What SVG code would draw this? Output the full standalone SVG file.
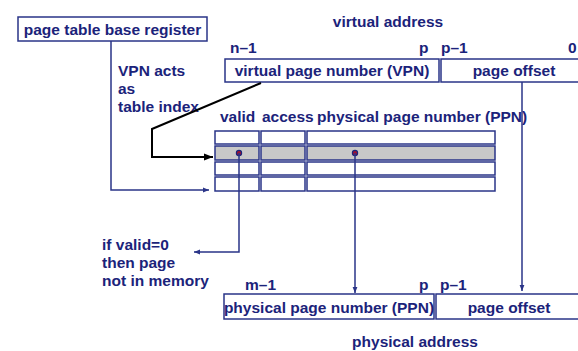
<svg xmlns="http://www.w3.org/2000/svg" width="578" height="351" viewBox="0 0 578 351">
<defs>
<style>
text{font-family:"Liberation Sans",Arial,sans-serif;font-weight:bold;font-size:15.5px;fill:#1b237a}
.box{fill:#fff;stroke:#2a3488;stroke-width:1.5}
.cell{fill:#fff;stroke:#2a3488;stroke-width:1.5}
.sel{fill:#c8c8c8}
.ln{fill:none;stroke:#2a3488;stroke-width:1.5}
.blk{fill:none;stroke:#000;stroke-width:2}
</style>
<marker id="ab" viewBox="0 0 10 10" refX="10" refY="5" markerWidth="6" markerHeight="6" orient="auto" markerUnits="userSpaceOnUse"><path d="M0,1 L10,5 L0,9 z" fill="#2a3488"/></marker>
<marker id="ak" viewBox="0 0 10 10" refX="10" refY="5" markerWidth="9" markerHeight="9" orient="auto" markerUnits="userSpaceOnUse"><path d="M0,1 L10,5 L0,9 z" fill="#000"/></marker>
</defs>
<rect width="578" height="351" fill="#fff"/>
<g id="ptbr"><rect class="box" x="18" y="17" width="189" height="24"/><text x="112.5" y="35" text-anchor="middle">page table base register</text></g>
<g id="va-label"><text x="388" y="27" text-anchor="middle">virtual address</text></g>
<g id="va-vpn"><rect class="box" x="225" y="59" width="214" height="23"/><text x="332" y="76" text-anchor="middle">virtual page number (VPN)</text><text x="230" y="53">n–1</text><text x="419" y="53">p</text></g>
<g id="va-off"><rect class="box" x="441" y="59" width="145" height="23"/><text x="514" y="76" text-anchor="middle">page offset</text><text x="441" y="53">p–1</text><text x="568" y="53">0</text></g>
<g id="vpn-note"><text x="118" y="76">VPN acts</text><text x="118" y="94">as</text><text x="118" y="112">table index</text></g>
<g id="pt-header"><text x="220" y="122">valid</text><text x="262" y="122">access</text><text x="317" y="122">physical page number (PPN)</text></g>
<g id="page-table">
<rect class="cell" x="215" y="131" width="44" height="13"/><rect class="cell" x="261" y="131" width="44" height="13"/><rect class="cell" x="307" y="131" width="188" height="13"/>
<rect class="cell sel" x="215" y="146" width="44" height="14"/><rect class="cell sel" x="261" y="146" width="44" height="14"/><rect class="cell sel" x="307" y="146" width="188" height="14"/>
<rect class="cell" x="215" y="162" width="44" height="13"/><rect class="cell" x="261" y="162" width="44" height="13"/><rect class="cell" x="307" y="162" width="188" height="13"/>
<rect class="cell" x="215" y="177" width="44" height="14"/><rect class="cell" x="261" y="177" width="44" height="14"/><rect class="cell" x="307" y="177" width="188" height="14"/>
<circle cx="239" cy="153" r="2.6" fill="#a01030" stroke="#1b237a" stroke-width="1.2"/>
<circle cx="355" cy="153" r="2.6" fill="#a01030" stroke="#1b237a" stroke-width="1.2"/>
</g>
<g id="invalid-note"><text x="102" y="250">if valid=0</text><text x="102" y="268">then page</text><text x="102" y="286">not in memory</text></g>
<g id="pa-ppn"><rect class="box" x="224" y="294" width="210" height="25"/><text x="329" y="313" text-anchor="middle">physical page number (PPN)</text><text x="245" y="290">m–1</text><text x="419" y="290">p</text></g>
<g id="pa-off"><rect class="box" x="436" y="294" width="150" height="25"/><text x="509" y="313" text-anchor="middle">page offset</text><text x="440" y="290">p–1</text></g>
<g id="pa-label"><text x="415" y="347" text-anchor="middle">physical address</text></g>
<g id="connectors">
<path class="ln" d="M111,41 V190 H209" marker-end="url(#ab)"/>
<path class="blk" d="M261,83 L152,129 V157 H213" marker-end="url(#ak)"/>
<path class="ln" d="M239,153 V252 H194" marker-end="url(#ab)"/>
<path class="ln" d="M355,153 V293" marker-end="url(#ab)"/>
<path class="ln" d="M522,82 V291" marker-end="url(#ab)"/>
</g>
</svg>
